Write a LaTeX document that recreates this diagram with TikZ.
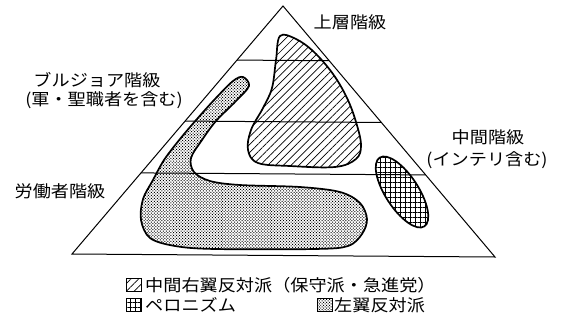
\documentclass[tikz,border=0pt]{standalone}
\usepackage{fontspec}
\newfontfamily\jp{Noto Sans CJK JP}[FakeStretch=1.1]
\usetikzlibrary{patterns,patterns.meta,shapes.geometric,calc}
\begin{document}
\begin{tikzpicture}[x=1pt,y=-1pt,
  lbl/.style={font=\jp\fontsize{16.5}{18}\selectfont, inner sep=0pt},
  edge/.style={line width=1pt},
  blob/.style={line width=1.7pt},
  hatchfill/.style={pattern={Lines[angle=45,distance=5.5pt,line width=0.7pt]}},
  dotfill/.style={pattern={Dots[angle=45,distance=2.1pt,radius=0.7pt]}},
  gridfill/.style={pattern={Hatch[angle=0,distance=5pt,line width=0.9pt]}},
  keybox/.style={draw, line width=0.5pt, minimum width=15pt, minimum height=13pt, inner sep=0pt},
]
\useasboundingbox (0,0) rectangle (564,332);
% triangle
\coordinate (A) at (283,6);
\coordinate (BL) at (72,254);
\coordinate (BR) at (495,257);
\draw[edge] (A) -- (BL) -- (BR) -- cycle;
\coordinate (L1a) at ($(A)!0.218!(BL)$);
\coordinate (L1b) at ($(A)!0.218!(BR)$);
\coordinate (L2a) at ($(A)!0.464!(BL)$);
\coordinate (L2b) at ($(A)!0.464!(BR)$);
\coordinate (L3a) at ($(A)!0.673!(BL)$);
\coordinate (L3b) at ($(A)!0.673!(BR)$);
\draw[edge] (L1a) -- (L1b);
\draw[edge] (L2a) -- (L2b);
\draw[edge] (L3a) -- (L3b);
% hatched region
\draw[blob, hatchfill] plot[smooth cycle, tension=0.6] coordinates {
  (280,36) (296,39) (314,52) (333,74) (347,98) (356,122) (361,145) (356,159)
  (335,167) (290,166) (258,163) (248,150) (251,130) (263,108) (272,88) (276,60)};
% dotted region
\draw[blob, dotfill] plot[smooth cycle, tension=0.55] coordinates {
  (243,77) (249,86) (236,101) (216,121) (202,140) (191,158) (194,172) (210,181)
  (240,185) (300,187) (340,192) (360,203) (367,219) (362,234) (348,246) (315,249)
  (215,249) (175,246) (150,238) (141,220) (143,199) (153,180) (164,160) (180,139)
  (197,119) (215,99) (233,81)};
% grid ellipse
\node[ellipse, draw, blob, gridfill, minimum width=82pt, minimum height=33pt, inner sep=0pt, rotate=-57] (ell) at (402,192) {};
% labels
\node[lbl] (upper) at (350,22) {上層階級};
\node[lbl] (bourg) at (97,80) {ブルジョア階級};
\node[lbl] (bourg2) at (104,100) {(軍・聖職者を含む)};
\node[lbl] (middle) at (488,137) {中間階級};
\node[lbl] (middle2) at (487,160) {(インテリ含む)};
\node[lbl] (worker) at (60,191) {労働者階級};
% legend
\node[keybox, hatchfill] (k1) at (134,285) {};
\node[lbl, anchor=west] (t1) at (145,285) {中間右翼反対派（保守派・急進党）};
\node[keybox, gridfill] (k2) at (134,305) {};
\node[lbl, anchor=west] (t2) at (145,305) {ペロニズム};
\node[keybox, dotfill] (k3) at (325,305) {};
\node[lbl, anchor=west] (t3) at (334,305) {左翼反対派};
\end{tikzpicture}
\end{document}
